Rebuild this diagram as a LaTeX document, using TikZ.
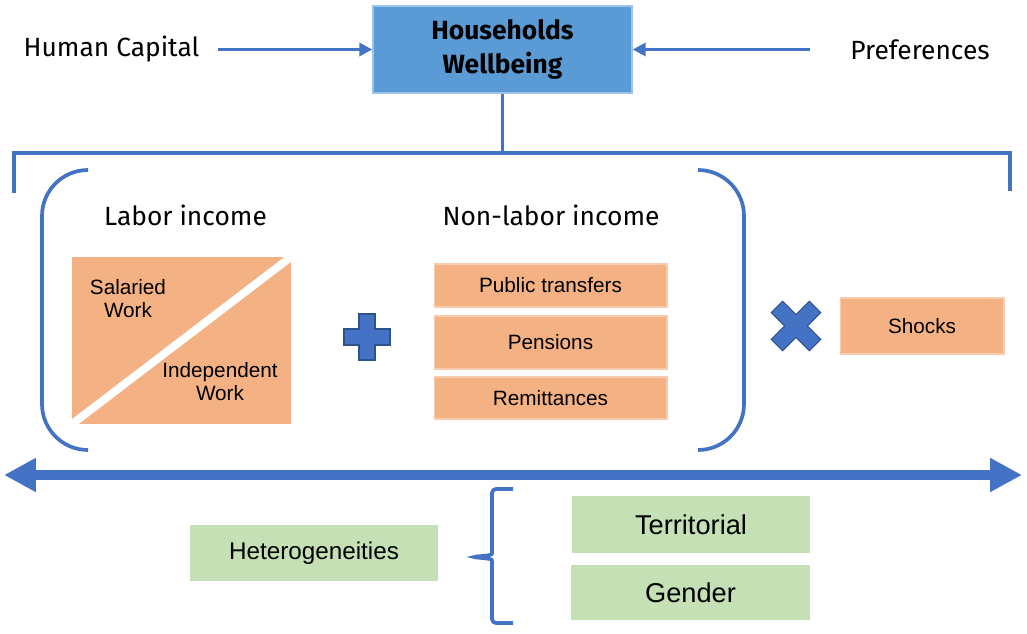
\documentclass[tikz,border=0pt]{standalone}
\usepackage{fontspec}
\setmainfont{Liberation Sans}
\newfontfamily\headfont{Fira Sans}
\usepackage{xcolor}
\usepackage{tikz}
\usetikzlibrary{positioning,arrows.meta,calc}
\definecolor{lineblue}{HTML}{4472C4}
\definecolor{symedge}{HTML}{2F528F}
\definecolor{hhfill}{HTML}{5B9BD5}
\definecolor{hhedge}{HTML}{9DC3E6}
\definecolor{orangefill}{HTML}{F4B183}
\definecolor{orangeedge}{HTML}{F8CBAD}
\definecolor{greenfill}{HTML}{C5E0B4}
\tikzset{
  head/.style={font=\headfont\fontsize{15}{18}\selectfont,inner sep=0pt},
  hhbox/.style={draw=hhedge,line width=0.8pt,fill=hhfill,align=center,
    font=\headfont\bfseries\fontsize{15}{19}\selectfont,minimum width=5.18cm,minimum height=1.74cm},
  inc/.style={draw=orangeedge,line width=0.6pt,fill=orangefill,align=center,
    font=\fontsize{11.8}{13}\selectfont,minimum width=4.66cm,inner sep=0pt},
  grp/.style={fill=greenfill,align=center,inner sep=0pt},
  lbl/.style={align=center,font=\fontsize{11.8}{13}\selectfont,inner sep=0pt},
  ln/.style={lineblue,line width=2.1pt},
  ar/.style={ln,-{Triangle[length=0.26cm,width=0.26cm]}},
  bigar/.style={lineblue,line width=0.2cm,{Triangle[length=0.64cm,width=0.64cm]}-{Triangle[length=0.64cm,width=0.64cm]}},
  sym/.style={fill=lineblue,draw=symedge,line width=0.6pt,line join=miter},
}

\begin{document}
\begin{tikzpicture}[x=0.02cm,y=-0.02cm]
  \useasboundingbox (0,0) rectangle (1027,634);
  \node[hhbox] (hh) at (502.5,49.5) {Households\\Wellbeing};
  \node[head] (hc) at (111.5,49.5) {Human Capital};
  \node[head] (pref) at (920,49.5) {Preferences};
  \draw[ar,shorten <=0.36cm] (hc) -- (hh);
  \draw[ar,shorten <=0.8cm] (pref) -- (hh);
  \coordinate (tl) at (14,153);
  \coordinate (tr) at (1010,153);
  \draw[ln] (hh.south) -- (hh.south |- tl);
  \draw[ln] (14,193) -- (tl) -- (tr) -- (1010,191);
  \draw[ln,rounded corners=0.92cm] (88,170) -- (42,170) -- (42,450) -- (88,450);
  \draw[ln,rounded corners=0.92cm] (698,170) -- (744,170) -- (744,450) -- (698,450);
  \node[head] (labor) at (185.5,215) {Labor income};
  \node[head] (nonlabor) at (551,215) {Non-labor income};
  \node[fill=orangefill,minimum width=4.38cm,minimum height=3.34cm,inner sep=0pt] (work) at (181.5,340.5) {};
  \draw[white,line width=4.5pt] (work.south west) -- (work.north east);
  \node[lbl] (sal) at (128,299) {Salaried\\Work};
  \node[lbl] (ind) at (220,382) {Independent\\Work};
  \draw[sym] (367,337) ++(-8,-23) -- ++(16,0) -- ++(0,15) -- ++(15,0) -- ++(0,16) -- ++(-15,0)
    -- ++(0,15) -- ++(-16,0) -- ++(0,-15) -- ++(-15,0) -- ++(0,-16) -- ++(15,0) -- cycle;
  \node[inc,minimum height=0.86cm] (pub) at (550.5,285.5) {Public transfers};
  \node[inc,minimum height=1.06cm] (pen) at (550.5,342.5) {Pensions};
  \node[inc,minimum height=0.84cm] (rem) at (550.5,398) {Remittances};
  \draw[sym,rotate around={45:(796,326)}] (796,326) ++(-8,-27) -- ++(16,0) -- ++(0,19) -- ++(19,0) -- ++(0,16) -- ++(-19,0)
    -- ++(0,19) -- ++(-16,0) -- ++(0,-19) -- ++(-19,0) -- ++(0,-16) -- ++(19,0) -- cycle;
  \node[inc,minimum width=3.28cm,minimum height=1.12cm] (shock) at (922,326) {Shocks};
  \coordinate (la) at (4,475);
  \coordinate (ra) at (1022,475);
  \draw[bigar] (la) -- (ra);
  \node[grp,minimum width=4.96cm,minimum height=1.12cm,font=\fontsize{13.8}{15}\selectfont] (het) at (314,553) {Heterogeneities};
  \node[grp,minimum width=4.76cm,minimum height=1.14cm,font=\fontsize{15.5}{17}\selectfont] (terr) at (691,524.5) {Territorial};
  \node[grp,minimum width=4.78cm,minimum height=1.10cm,font=\fontsize{15.5}{17}\selectfont] (gen) at (690.5,592.5) {Gender};
  \coordinate (tip) at (472,557);
  \draw[ln,rounded corners=0.08cm] (513,489) -- (492,489) -- (492,549)
    .. controls (492,555) .. (tip) .. controls (492,559) .. (492,565) -- (492,623) -- (513,623);
\end{tikzpicture}
\end{document}
